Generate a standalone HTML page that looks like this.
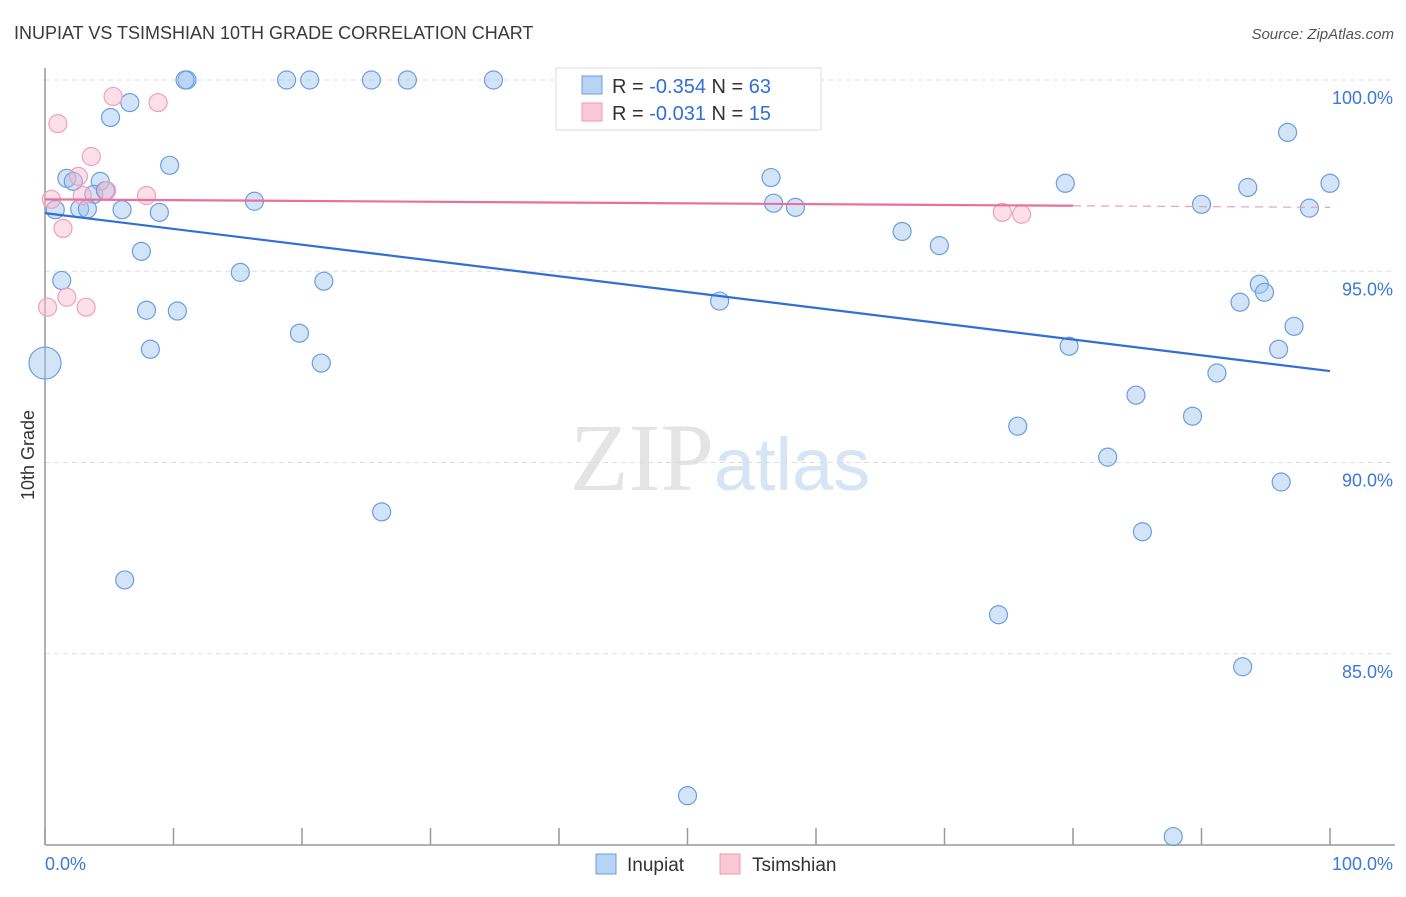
<!DOCTYPE html>
<html><head><meta charset="utf-8"><style>
body{margin:0;background:#fff;font-family:"Liberation Sans",sans-serif}
</style></head><body>
<svg id="chart" width="1406" height="892" xmlns="http://www.w3.org/2000/svg" font-family="Liberation Sans, sans-serif">
<text x="14" y="39" font-size="18" fill="#3a3a3a">INUPIAT VS TSIMSHIAN 10TH GRADE CORRELATION CHART</text>
<text x="1394" y="39" font-size="15" fill="#555" font-style="italic" text-anchor="end">Source: ZipAtlas.com</text>
<text x="720" y="490" font-size="96" text-anchor="middle" fill="#e4e4e4" font-family="Liberation Serif, serif">ZIP<tspan fill="#d6e4f6" font-family="Liberation Sans, sans-serif" font-size="74">atlas</tspan></text>
<text transform="translate(34,455) rotate(-90)" font-size="18" fill="#333" text-anchor="middle">10th Grade</text>
<g id="grid"></g><g id="axes"></g><g id="marks"></g>
<g>
<rect x="556" y="68" width="265" height="62" fill="#fff" stroke="#ddd"/>
<rect x="582" y="76" width="20" height="18" fill="#b9d3f4" stroke="#6a9ee0"/>
<text x="612" y="93" font-size="20" fill="#333">R = <tspan fill="#2f6fd6">-0.354</tspan>   N = <tspan fill="#2f6fd6">63</tspan></text>
<rect x="582" y="103" width="20" height="18" fill="#f9c8d6" stroke="#ef9ab4"/>
<text x="612" y="120" font-size="20" fill="#333">R =  <tspan fill="#2f6fd6">-0.031</tspan>   N =  <tspan fill="#2f6fd6">15</tspan></text>
</g>
<g>
<rect x="596" y="854" width="20" height="20" fill="#b9d3f4" stroke="#6a9ee0"/>
<text x="627" y="871" font-size="19" fill="#333">Inupiat</text>
<rect x="720" y="854" width="20" height="20" fill="#f9c8d6" stroke="#ef9ab4"/>
<text x="752" y="871" font-size="19" fill="#333">Tsimshian</text>
</g>
</svg>
<script>
const yTicks=[100,95,90,85];
const yTickLabels=["100.0%","95.0%","90.0%","85.0%"];
const xTicks=[0,10,20,30,40,50,60,70,80,90,100];
const inupiatX=[11.05,10.9,18.8,20.6,25.4,28.2,34.9,47.2,6.6,5.1,9.7,1.7,2.2,4.3,3.8,4.7,0.8,2.7,3.3,6.0,8.9,16.3,7.5,1.3,15.2,21.7,7.9,10.3,8.2,19.8,21.5,0,26.2,6.2,52.5,56.5,56.7,58.4,66.7,69.6,79.4,79.7,75.7,82.7,84.9,85.4,74.2,50.0,87.8,96.7,93.6,90.0,98.4,100,94.5,94.9,93.0,97.2,96.0,91.2,89.3,96.2,93.2];
const inupiatY=[100,100,100,100,100,100,100,100,99.41,99.02,97.77,97.43,97.35,97.35,97.01,97.11,96.61,96.63,96.63,96.61,96.54,96.83,95.52,94.76,94.97,94.74,93.98,93.96,92.96,93.38,92.6,92.6,88.71,86.93,94.22,97.45,96.78,96.67,96.04,95.67,97.3,93.04,90.95,90.14,91.76,88.19,86.02,81.29,80.22,98.63,97.19,96.75,96.65,97.3,94.66,94.45,94.19,93.56,92.96,92.34,91.21,89.49,84.66];
const tsimshianX=[1.0,5.3,8.8,3.6,2.6,0.5,1.4,2.9,4.8,7.9,1.7,3.2,0.2,74.5,76.0];
const tsimshianY=[98.86,99.57,99.41,98.0,97.48,96.88,96.12,96.98,97.11,96.98,94.32,94.06,94.06,96.54,96.49];
const inupiatTrend=[96.52,92.39];
const tsimshianTrend=[96.88,96.67];
const tsimshianMaxX=80;
const NS="http://www.w3.org/2000/svg";
const X0=45,X1=1330,Y0=80,Y1=845,YMIN=80,YMAX=100;
function sx(v){return X0+(X1-X0)*v/100;}
function sy(v){return Y1-(Y1-Y0)*(v-YMIN)/(YMAX-YMIN);}
function mk(parent,tag,attrs){const e=document.createElementNS(NS,tag);for(const k in attrs)e.setAttribute(k,attrs[k]);document.getElementById(parent).appendChild(e);return e;}
yTicks.forEach((t,i)=>{
 const g=mk('grid','line',{x1:X0,x2:1395,y1:sy(t),y2:sy(t),stroke:'#ddd','stroke-dasharray':'5,4'});
 
 
 const l=mk('axes','text',{x:1393,y:sy(t)+24,'font-size':18,fill:'#3b78d8','text-anchor':'end'});
 l.textContent=yTickLabels[i];
 
 
});
let a=mk('axes','line',{x1:X0,x2:X0,y1:68,y2:Y1,stroke:'#999','stroke-width':1.5});


a=mk('axes','line',{x1:X0,x2:1395,y1:Y1,y2:Y1,stroke:'#999','stroke-width':1.5});


xTicks.forEach(t=>{
 const k=mk('axes','line',{x1:sx(t),x2:sx(t),y1:828,y2:Y1,stroke:'#999','stroke-width':1.5});
 
 
});
let t=mk('axes','text',{x:45,y:870,'font-size':18,fill:'#3b78d8'});t.textContent='0.0%';


t=mk('axes','text',{x:1393,y:870,'font-size':18,fill:'#3b78d8','text-anchor':'end'});t.textContent='100.0%';


inupiatX.forEach((x,i)=>{
 const c=mk('marks','circle',{cx:sx(x),cy:sy(inupiatY[i]),r:(x===0?16:9),fill:'rgba(160,196,240,0.45)',stroke:'#6a9ee0','stroke-width':1.2});
 
 
});
tsimshianX.forEach((x,i)=>{
 const c=mk('marks','circle',{cx:sx(x),cy:sy(tsimshianY[i]),r:9,fill:'rgba(248,184,204,0.45)',stroke:'#efa0ba','stroke-width':1.2});
 
 
});
let ln=mk('marks','line',{x1:sx(0),y1:sy(inupiatTrend[0]),x2:sx(100),y2:sy(inupiatTrend[1]),stroke:'#2f6fd6','stroke-width':2.2});


const tm=tsimshianTrend[0]+(tsimshianTrend[1]-tsimshianTrend[0])*tsimshianMaxX/100;
ln=mk('marks','line',{x1:sx(0),y1:sy(tsimshianTrend[0]),x2:sx(tsimshianMaxX),y2:sy(tm),stroke:'#e8709a','stroke-width':2.2});


ln=mk('marks','line',{x1:sx(tsimshianMaxX),y1:sy(tm),x2:sx(100),y2:sy(tsimshianTrend[1]),stroke:'#e8a0b8','stroke-width':1.2,'stroke-dasharray':'8,6'});


</script>
</body></html>
